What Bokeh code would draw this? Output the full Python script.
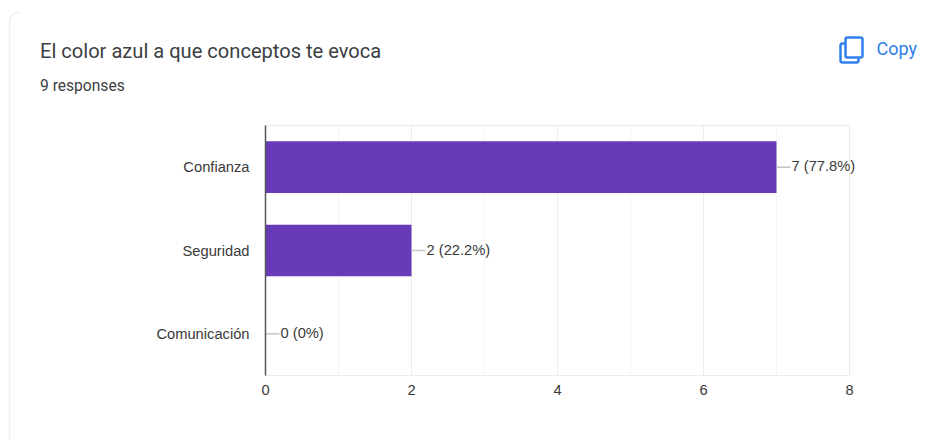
from bokeh.embed import file_html
from bokeh.core.properties import value
from bokeh.models import BoxAnnotation, ColumnDataSource, FixedTicker, Label, LabelSet, Range1d
from bokeh.plotting import figure
from bokeh.resources import INLINE

categories = ["Confianza", "Seguridad", "Comunicación"]
counts = [7, 2, 0]
labels = ["7 (77.8%)", "2 (22.2%)", "0 (0%)"]
major_ticks = [0, 2, 4, 6, 8]
minor_ticks = [1, 3, 5, 7]

question = "El color azul a que conceptos te evoca"
responses = "9 responses"
action = "Copy"

WIDTH, HEIGHT = 940, 440
LEFT, RIGHT, TOP, BOTTOM = 265, 849, 125, 375
X_MAX = major_ticks[-1]
PX_PER_UNIT = (RIGHT - LEFT) / X_MAX
ROW_PX = (BOTTOM - TOP) / len(categories)
ROW_LOW, ROW_HIGH = -0.5, len(categories) - 0.5
LEADER_PX = 14
LABEL_GAP_PX = 15
INK = "#3c4043"
LABEL_INK = "#3a3a3a"
BLUE = "#2f80ed"
CHART_FONT = "Liberation Sans"
CHART_FONT_SIZE = "14.7px"

# First category sits at the top of the chart
rows = [len(categories) - 1 - i for i in range(len(categories))]

# The frame fills the page, so the header can share it with the chart;
# the axes are pinned inside it and the ranges are widened to suit
p = figure(
    width=WIDTH, height=HEIGHT,
    x_range=(-LEFT / PX_PER_UNIT, (WIDTH - LEFT) / PX_PER_UNIT),
    y_range=(ROW_LOW - (HEIGHT - BOTTOM) / ROW_PX, ROW_HIGH + TOP / ROW_PX),
    output_backend="svg", toolbar_location=None,
    min_border_left=0, min_border_right=0, min_border_top=0, min_border_bottom=0,
    background_fill_color="white", border_fill_color="white",
    outline_line_color=None,
)

# A second pair of ranges measured in page pixels, for the card furniture
p.extra_x_ranges["page"] = Range1d(0, WIDTH)
p.extra_y_ranges["page"] = Range1d(HEIGHT, 0)

# Axes
p.xaxis.fixed_location = ROW_LOW
p.xaxis.bounds = (0, X_MAX)
p.xaxis.ticker = FixedTicker(ticks=major_ticks)
p.xaxis.axis_line_color = None
p.xaxis.major_tick_line_color = None
p.xaxis.minor_tick_line_color = None
p.xaxis.major_label_standoff = 3
p.xaxis.major_label_text_font = CHART_FONT
p.xaxis.major_label_text_font_size = CHART_FONT_SIZE
p.xaxis.major_label_text_color = LABEL_INK

p.yaxis.fixed_location = 0
p.yaxis.bounds = (ROW_LOW, ROW_HIGH)
p.yaxis.ticker = FixedTicker(ticks=rows)
p.yaxis.major_label_overrides = dict(zip(rows, categories))
p.yaxis.axis_line_color = "#555555"
p.yaxis.axis_line_width = 1.5
p.yaxis.major_tick_line_color = None
p.yaxis.minor_tick_line_color = None
p.yaxis.major_label_standoff = 10
p.yaxis.major_label_text_font = CHART_FONT
p.yaxis.major_label_text_font_size = CHART_FONT_SIZE
p.yaxis.major_label_text_color = LABEL_INK

# Gridlines stop at the plot area, so they are drawn from the ticks
p.xgrid.visible = False
p.ygrid.visible = False
p.segment(x0=minor_ticks, x1=minor_ticks, y0=ROW_LOW, y1=ROW_HIGH,
          line_color="#f5f5f5", line_width=1)
p.segment(x0=major_ticks, x1=major_ticks, y0=ROW_LOW, y1=ROW_HIGH,
          line_color="#ececec", line_width=1)
p.segment(x0=0, x1=X_MAX, y0=[ROW_LOW, ROW_HIGH], y1=[ROW_LOW, ROW_HIGH],
          line_color="#ececec", line_width=1)

# Bars, leader lines and value labels
source = ColumnDataSource(dict(
    row=rows,
    count=counts,
    label=labels,
    leader_end=[c + LEADER_PX / PX_PER_UNIT for c in counts],
))
p.hbar(y="row", left=0, right="count", height=0.62, source=source,
       fill_color="#673ab7", line_color=None)
p.segment(x0="count", x1="leader_end", y0="row", y1="row", source=source,
          line_color="#c4c4c4", line_width=1.5)
p.add_layout(LabelSet(
    x="count", y="row", text="label", source=source,
    x_offset=LABEL_GAP_PX, y_offset=1, text_baseline="middle", text_align="left",
    text_font=value(CHART_FONT), text_font_size=value(CHART_FONT_SIZE), text_color=LABEL_INK,
))


def page_box(left, right, top, bottom, **style):
    p.add_layout(BoxAnnotation(
        left=left, right=right, top=top, bottom=bottom,
        x_range_name="page", y_range_name="page",
        **style,
    ))


def page_text(x, y, text, font, size, color, weight="normal"):
    p.add_layout(Label(
        x=x, y=y, x_range_name="page", y_range_name="page", text=text,
        text_font=font, text_font_size=size, text_color=color,
        text_font_style=weight, text_baseline="middle", text_align="left",
    ))


# Rounded corner of the card, with its top edge fading out to the right
page_box(9, 1200, 12, 700, fill_color="white", fill_alpha=0,
         line_color="#e4e4ea", line_alpha=0.6, line_width=1.5, border_radius=9)
page_box(21, 1200, 8, 40, fill_color="white", fill_alpha=1, line_color=None)

# Header texts
page_text(39.5, 50, question, "Roboto", "20.1px", INK)
page_text(39.5, 85, responses, "Roboto", "15.6px", INK)
page_text(876, 47.5, action, "Roboto", "18px", BLUE)

# Copy icon: a back sheet partly hidden by the front one
page_box(840, 858, 43, 62, fill_alpha=0, line_color=BLUE, line_alpha=1, line_width=2.5, border_radius=2)
page_box(845, 862, 37, 57, fill_color="white", fill_alpha=1, line_color=None)
page_box(845, 862, 37, 57, fill_alpha=0, line_color=BLUE, line_alpha=1, line_width=2.5, border_radius=2)

open("out.html", "w").write(file_html(p, INLINE))
